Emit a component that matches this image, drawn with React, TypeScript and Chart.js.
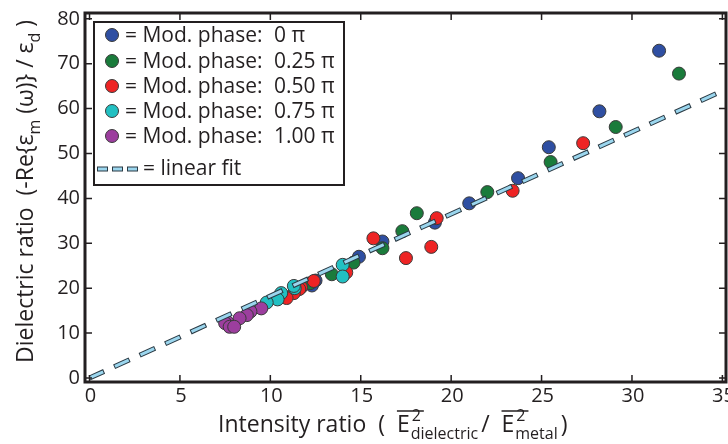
import { useEffect, useRef } from 'react';
import { Chart, registerables } from 'chart.js';

Chart.register(...registerables);

// ---------- data ----------
const xTicks = [0, 5, 10, 15, 20, 25, 30, 35];
const yTicks = [0, 10, 20, 30, 40, 50, 60, 70, 80];
const X_MIN = -0.25;
const X_MAX = 35.2;
const Y_MIN = -0.9;
const Y_MAX = 81.3;

const phaseLabels = ['0 \u03c0', '0.25 \u03c0', '0.50 \u03c0', '0.75 \u03c0', '1.00 \u03c0'];
const phaseColors = ['#2f4fa2', '#1a7b3b', '#ee2424', '#22c0c2', '#9c3e9e'];

const phase0X = [31.5, 28.2, 25.4, 23.7, 21.0, 19.1, 16.2, 14.9, 12.5, 12.3];
const phase0Y = [72.9, 59.4, 51.4, 44.5, 38.9, 34.6, 30.4, 27.0, 21.7, 20.6];

const phase25X = [32.6, 29.1, 25.5, 22.0, 18.1, 17.3, 16.2, 14.6, 13.4, 12.2];
const phase25Y = [67.8, 55.9, 48.1, 41.4, 36.7, 32.7, 28.9, 25.7, 23.1, 21.1];

const phase50X = [27.3, 23.4, 19.2, 18.9, 17.5, 15.7, 14.2, 12.4, 11.7, 11.6, 11.3, 10.9];
const phase50Y = [52.3, 41.7, 35.6, 29.2, 26.7, 31.1, 23.5, 21.6, 20.2, 19.8, 18.9, 17.8];

const phase75X = [14.0, 14.0, 11.35, 11.3, 10.6, 10.4, 9.8];
const phase75Y = [25.2, 22.6, 20.0, 20.5, 18.9, 17.5, 16.8];

const phase100X = [9.5, 8.9, 8.7, 8.3, 7.6, 7.5, 7.75, 8.0];
const phase100Y = [15.5, 14.8, 14.0, 13.3, 12.5, 12.2, 11.4, 11.4];

const fitX = [0, 35.2];
const fitY = [0, 64.3];

const FONT = '"Open Sans", sans-serif';
const INK = '#231f20';
const FIT_LIGHT = '#9bd6ee';
const FIT_DARK = '#2a3a44';

function pts(xs: number[], ys: number[]) {
  return xs.map((x, i) => ({ x, y: ys[i] }));
}

function drawEbar(ctx: CanvasRenderingContext2D, x: number, y: number, sub: string, big: number, small: number) {
  ctx.font = `${big}px ${FONT}`;
  ctx.fillText('E', x, y);
  const w = ctx.measureText('E').width;
  ctx.font = `${small}px ${FONT}`;
  ctx.fillText('2', x + w + 2, y - 11);
  const w2 = ctx.measureText('2').width;
  ctx.fillText(sub, x + w + 1, y + 7);
  const ws = ctx.measureText(sub).width;
  ctx.beginPath();
  ctx.lineWidth = 1.5;
  ctx.strokeStyle = INK;
  ctx.moveTo(x, y - 21);
  ctx.lineTo(x + w + w2 + 5, y - 21);
  ctx.stroke();
  return x + w + Math.max(w2 + 2, ws) + 4;
}

const decorPlugin = {
  id: 'decor',
  afterDraw(chart: any) {
    const ctx: CanvasRenderingContext2D = chart.ctx;
    const ca = chart.chartArea;
    const xs = chart.scales.x;
    const ys = chart.scales.y;
    ctx.save();

    // inward ticks
    ctx.strokeStyle = INK;
    ctx.lineWidth = 1.5;
    const tl = 7;
    xTicks.forEach((v) => {
      const px = xs.getPixelForValue(v);
      ctx.beginPath();
      ctx.moveTo(px, ca.bottom);
      ctx.lineTo(px, ca.bottom - tl);
      ctx.moveTo(px, ca.top);
      ctx.lineTo(px, ca.top + tl);
      ctx.stroke();
    });
    yTicks.forEach((v) => {
      const py = ys.getPixelForValue(v);
      ctx.beginPath();
      ctx.moveTo(ca.left, py);
      ctx.lineTo(ca.left + tl, py);
      ctx.moveTo(ca.right, py);
      ctx.lineTo(ca.right - tl, py);
      ctx.stroke();
    });

    // frame
    ctx.lineWidth = 3;
    ctx.strokeRect(ca.left, ca.top, ca.right - ca.left, ca.bottom - ca.top);

    // tick labels
    ctx.fillStyle = INK;
    ctx.font = `20px ${FONT}`;
    ctx.textAlign = 'center';
    ctx.textBaseline = 'top';
    xTicks.forEach((v) => {
      ctx.fillText(String(v), xs.getPixelForValue(v) + 1, ca.bottom + 4);
    });
    ctx.textAlign = 'right';
    ctx.textBaseline = 'middle';
    yTicks.forEach((v) => {
      ctx.fillText(String(v), ca.left - 5, ys.getPixelForValue(v));
    });

    // legend box
    ctx.fillStyle = '#ffffff';
    ctx.fillRect(94, 22, 250, 163);
    ctx.lineWidth = 2;
    ctx.strokeStyle = INK;
    ctx.strokeRect(94, 22, 250, 163);
    const rows = [35, 61, 86, 111, 136];
    ctx.textBaseline = 'middle';
    ctx.textAlign = 'left';
    rows.forEach((ry, i) => {
      ctx.beginPath();
      ctx.arc(112, ry, 6.5, 0, Math.PI * 2);
      ctx.fillStyle = phaseColors[i];
      ctx.fill();
      ctx.lineWidth = 1;
      ctx.strokeStyle = '#3a3a3a';
      ctx.stroke();
      ctx.fillStyle = INK;
      ctx.font = `21px ${FONT}`;
      ctx.fillText('= Mod. phase:', 125, ry + 1);
      ctx.fillText(phaseLabels[i], 274, ry + 1);
    });
    // linear fit entry
    const fy = 169;
    [[98, 107], [113, 122], [128, 137]].forEach(([a, b]) => {
      ctx.fillStyle = FIT_DARK;
      ctx.fillRect(a - 1, fy - 2.5, b - a + 2, 5);
      ctx.fillStyle = FIT_LIGHT;
      ctx.fillRect(a, fy - 1.5, b - a, 3);
    });
    ctx.fillStyle = INK;
    ctx.font = `21px ${FONT}`;
    ctx.fillText('= linear fit', 143, fy);

    // x title
    ctx.textBaseline = 'alphabetic';
    const big = 23;
    const small = 16;
    let x = 218;
    const y = 432;
    ctx.font = `${big}px ${FONT}`;
    const s1 = 'Intensity ratio  (  ';
    ctx.fillText(s1, x, y);
    x += ctx.measureText(s1).width;
    x = drawEbar(ctx, x, y, 'dielectric', big, small);
    ctx.font = `${big}px ${FONT}`;
    ctx.fillText('/  ', x, y);
    x += ctx.measureText('/  ').width;
    x = drawEbar(ctx, x, y, 'metal', big, small);
    ctx.font = `${big}px ${FONT}`;
    ctx.fillText(')', x, y);

    // y title (rotated)
    ctx.translate(33, 363);
    ctx.rotate(-Math.PI / 2);
    let lx = 0;
    const seg = (t: string, size: number, dy: number) => {
      ctx.font = `${size}px ${FONT}`;
      ctx.fillText(t, lx, dy);
      lx += ctx.measureText(t).width;
    };
    seg('Dielectric ratio  (-Re{\u03b5', big, 0);
    seg('m', 16, 7);
    seg(' (\u03c9)} / \u03b5', big, 0);
    seg('d', 16, 7);
    seg(' )', big, 0);

    ctx.restore();
  },
};

export default function App() {
  const ref = useRef<HTMLCanvasElement | null>(null);
  useEffect(() => {
    document.body.style.margin = '0';
    const canvas = ref.current;
    if (!canvas) return;
    const scatterDs = [
      [phase100X, phase100Y, 4],
      [phase75X, phase75Y, 3],
      [phase50X, phase50Y, 2],
      [phase25X, phase25Y, 1],
      [phase0X, phase0Y, 0],
    ].map(([xs, ys, idx], k) => ({
      type: 'scatter' as const,
      label: phaseLabels[idx as number],
      data: pts(xs as number[], ys as number[]),
      backgroundColor: phaseColors[idx as number],
      borderColor: '#3a3a3a',
      borderWidth: 1,
      pointRadius: 6.5,
      pointHoverRadius: 6.5,
      order: 2 + k,
    }));
    const chart = new Chart(canvas, {
      type: 'scatter',
      data: {
        datasets: [
          {
            type: 'line',
            label: 'linear fit',
            data: pts(fitX, fitY),
            borderColor: FIT_LIGHT,
            borderWidth: 3,
            borderDash: [15, 13],
            pointRadius: 0,
            fill: false,
            order: 0,
          },
          {
            type: 'line',
            label: 'fit outline',
            data: pts(fitX, fitY),
            borderColor: FIT_DARK,
            borderWidth: 5,
            borderDash: [17, 11],
            borderDashOffset: 1,
            pointRadius: 0,
            fill: false,
            order: 1,
          },
          ...scatterDs,
        ] as any,
      },
      options: {
        responsive: false,
        animation: false,
        devicePixelRatio: 1,
        layout: { autoPadding: false, padding: { top: 13, right: 2, left: 0, bottom: 0 } },
        plugins: { legend: { display: false }, tooltip: { enabled: false } },
        scales: {
          x: {
            type: 'linear',
            min: X_MIN,
            max: X_MAX,
            grid: { display: false, drawTicks: false },
            border: { display: false },
            ticks: { display: false },
            afterBuildTicks: (s: any) => {
              s.ticks = xTicks.map((v) => ({ value: v }));
            },
            afterFit: (s: any) => {
              s.height = 62;
              s.paddingLeft = 0;
              s.paddingRight = 0;
            },
          },
          y: {
            type: 'linear',
            min: Y_MIN,
            max: Y_MAX,
            grid: { display: false, drawTicks: false },
            border: { display: false },
            ticks: { display: false },
            afterBuildTicks: (s: any) => {
              s.ticks = yTicks.map((v) => ({ value: v }));
            },
            afterFit: (s: any) => {
              s.width = 85;
              s.paddingTop = 0;
              s.paddingBottom = 0;
            },
          },
        },
      } as any,
      plugins: [decorPlugin],
    });
    return () => chart.destroy();
  }, []);
  return (
    <div style={{ width: 728, height: 444 }}>
      <canvas ref={ref} width={728} height={444} style={{ display: 'block' }} />
    </div>
  );
}
